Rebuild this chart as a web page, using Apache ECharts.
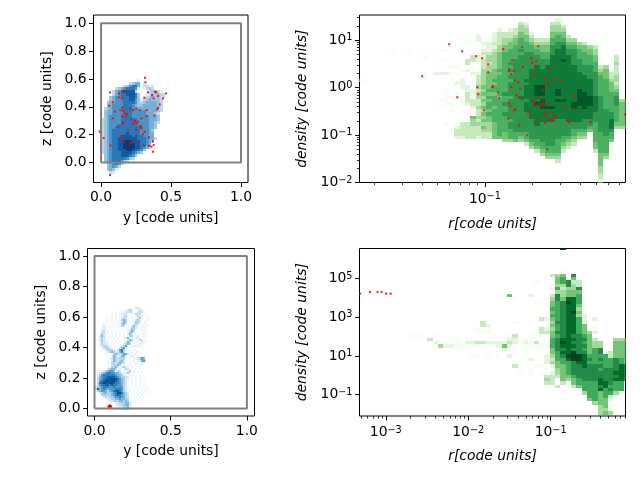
<!DOCTYPE html>
<html>
<head>
<meta charset="utf-8">
<script src="https://cdn.jsdelivr.net/npm/echarts@6/dist/echarts.min.js"></script>
<style>html,body{margin:0;padding:0;background:#fff}#c{width:640px;height:480px}</style>
</head>
<body>
<div id="c"></div>
<script>
// top-left panel: particle cloud, level per cell, rows from z=0.60 downward, columns from y=-0.02
const cloudTopRows = [
"..............1",
"...........2344.1",
".........235664.22.1",
"......234566651.1232",
".....245677772...123321",
".....2456677763..1233322",
"....34556667763.12343322",
"....3455566775312343332",
"...34455566665323444432",
"...34555566654334444432",
"..234555566655444444432",
"..344555566655555444432",
"..34455556665555544432",
"..34555566665555554443",
".234555566666655554443",
".234555566666655554432",
".23455566666665555443",
".23455666666666555443",
"12345666666666655543",
".2345666667666655544",
".2345666777766665544",
".23456677777776665442",
".2345667788877766543",
".234566778888776654",
".234566778888776542",
".2345667778877653",
".234566677776543",
"..345666777653",
"..34566666532",
"..345666532",
"...3456531",
"...34542",
"...3431",
"....21"];
// bottom-left panel: rows from z=0.68 downward, columns from y=0
const cloudBottomRows = [
"",
"...................1221",
".............1.1232.1122",
"..........1.11122321.2321",
"..........1.12221.11322111",
"........1.1.11231.1.1321..1",
"......1.1.1.12321.1.1231.1",
".....11.1.1.13431.1.2321.11",
".....1.1.1.112431.11332.11",
"....1.1.1.111342..12321.11",
"....21.1.1.1132.1.2421.1111",
"...121.11.111.1.1.3321.111",
"...221.1.1.1.1.112431.1111",
"...2311.1.1.1.1.1342.1.111",
"..13211.1.1.1.1.242.1.111",
"..2421.11.1.1.1.1331.2.111",
"..2321.1.1.1.112421.221.1",
"..23211.1.1.1.1.2431.1321",
"..13211.1.1.1.12431.11.211",
"..132211.1.1.11343.1.1211",
"..1233211.1.12351.11211",
"...1233211.12451.1.1.11",
"....12333212563111.11",
".....12343224631.11.11",
".....1.11343235421.1111",
"......1.24312442.1211",
".......124323331.1.112354",
"......1.2432342.1.11.12452",
"......1.33234321.1.111.2",
".......123343.1.1.1.1.11",
"......113342.2321.1..11",
"......23443.2.132.1.1.1",
"...1234554 32.1.23.1.1.1",
"..2345665544321232.1.1",
".235666666544321.11.1.1",
".2456677776543322.1.1.11",
".3456778888654321.1.1.1.1",
".2567887887654321.1.1.1",
".3678878876654321.1.1.1.1",
".3566776766554321.1.1.1.1",
"23456665565555321.1.1.1.11",
"374565455566653211.1.1.1.11",
".34554345677653211.1.1.111",
"..234433456886432.1.1.1.1.1",
"...333334567654321.1.1.1",
"....232334556543211.1.1",
".....1223344544331.1.1",
"......122333443431.1",
".......11.223334421",
"......1.1.12233442",
"......1.2..1223342",
"...........1223431"];
// top-right panel: 2D histogram, one string per column, rows from the top
const histTopCols = [
".......... .........1","","","","","",
".......... .1",
"","",".......... .1","","",
".......... ..1","",
".......... .......2",
".......... 1..1...2.. .....1.1",
".......... 1..1...2.. ..11111... ..1",
".......... .....1.1.1 ....1.1.1",
".......... .....1.1.. 2..11..... ...2332",
".......1.. ......1.12 22...11.1. ..33332",
".......11. ...33.2... .223332... ..33333",
"........1. ..33...2.. ..221332.. 5443333",
"......22.. 11221.1233 3434433433 4343332",
".......121 2323334444 4545454545 4545433",
".......122 2344344555 5565656656 5544433",
".....22232 3444445556 5665666566 6655555",
"....233334 4555556566 6666566666 6666665",
".....33445 5666666666 6667667667 66666554",
"....233455 6666767676 7777677777 76776664",
"....334556 6667777777 7777777777 77777665",
"..34455666 7677777777 7777877777 77777654",
"..23445566 6777777778 7888878887 777776653",
".....23456 6777778888 8888888888 8777777654",
".......345 6677788888 8999889888 8887777665 3",
".......345 5667778888 8999899988 8877777766 54",
".......345 5667788888 8888888988 8877777776 654",
"..34455667 7788888888 8888888988 8877777776 654",
".2344566778 888888888 8899898888 8777777666 6543",
"...3455678 8889888888 8888898888 8777776654 3",
"......3456 7788888888 8888888888 8877776543",
".......456 7777788888 8888889988 887766543",
"........45 6667777888 8899999888 8877654",
"........35 5666677788 8889999988 8777654",
".........4 5566677778 8888999888 87765",
".........3 4455666777 7777888887 7766666655 3",
".......... .....34566 6666777777 7777766666 6555544332",
".......... .....45556 6666666677 7777776666 654",
".......... .......334 5556666667 78887665",
".......... ..33433344 3456777666 6654",
".......... .......... .....45555 5554",
".......... .......... .....45555 5554"];
// bottom-right panel: 2D histogram, one string per column, rows from the top
const histBottomCols = [
"","","","","","","","","","",
".......... .......... ......1",
".......... .......... ......1",
"",
".......... .......... .......3",
".......... .......... ......1.2",
".......... .......... .........4",
".......... .......... ........12",
".......... .......... .......1.2",
".......... .......... ........11 1",
".......... .......... .........1 1",
".......... .......... .......121",
".......... .......... .......121 ..1",
".......... .......... ....11.131 ..1",
".......... .......... ..33.1..31",
".......... .......... ...211..2. ..1",
".......... .......... ......1.21",
".......... .......... ........22 ..1",
".......... .......... .......125 2",
".......... ....5..... ......1232 1.2",
".......... .....1.... ..1...3221 .....3",
".......... .......... .......... 1......1",
".......... .......... .......121 11",
".......... ....2..... ......1111 ...2..11",
".......... 1.....1... .....1..31 1..1.1",
".......... ......1... .3..331..1 1....1.1",
".......... .....1.... .2..23.111 ..222.1.3 43",
"........3. .12.345565 6545455666 5543421233 3",
"........45 5464776666 6676676777 766655443. .3",
"9......156 6434457777 7777777898 7876655555 3",
".......... 7745589888 8888888888 8898666654",
"........75 3445588889 8888887878 7999777765 53",
".......... 3375666545 4666667777 7799877776 65",
".......... ......1111 2225556767 6788887777 6664",
".......... .......... .....45555 5567677777 666665",
".......... .......... .2..12.344 6666677777 6666664",
".......... .......... ........44 7767676778 8785555444",
".......... .......... .......... ..66667777 8866655545",
".......... .......... .......... .336667777 7676321114",
".......... .......... .......455 5557777878 6664....11",
".......... .......... .......455 5556688888 666",
".......... .......... .......455 5555577777"];
const histTopEdges = {r0:-1.796, dr:0.03354, d0:1.53, dd:0.0707};
const histBottomEdges = {r0:-3.336, dr:0.06456, d0:6.639, dd:0.1736};

// red points
const redTopLeftY = [.064,-.01,.019,.067,.064,.129,.15,.126,.148,.057,.086,.086,.1,.138,.15,.157,.169,.186,.15,.176,.157,.152,.121,.145,.157,.164,.21,.224,.193,.21,.229,.252,.276,.217,.24,.229,.252,.24,.264,.288,.252,.286,.288,.283,.252,.312,.3,.343,.307,.343,.36,.376,.371,.371,.324,.326,.381,.4,.419,.407,.443,.464,.407,.395,.386,.376,.364,.336,.31,.317,.314,.164];
const redTopLeftZ = [-.091,.221,.175,.122,.504,.496,.511,.468,.46,.408,.432,.317,.365,.376,.393,.372,.353,.348,.333,.329,.281,.288,.259,.185,.18,.144,.137,.146,.233,.388,.376,.384,.376,.309,.293,.276,.281,.297,.293,.317,.233,.257,.245,.261,.192,.221,.204,.18,.12,.118,.113,.125,.153,.077,.333,.376,.338,.381,.417,.393,.46,.496,.477,.504,.508,.46,.484,.504,.465,.576,.609,.513];
const redBottomLeftY = [.095,.1,.105,.1,.092,.108];
const redBottomLeftZ = [.015,.02,.015,.012,.012,.012];
const redTopLogR = [-1.395,-1.225,-1.143,-1.055,-1.017,-.979,-.979,-1.048,-1.042,-1.174,-1.004,-.95,-.954,-.916,-.91,-.884,-.828,-.847,-.847,-.815,-.834,-.809,-.79,-.834,-.777,-.802,-.847,-.84,-.809,-.815,-.853,-.784,-.733,-.765,-.76,-.765,-.727,-.714,-.708,-.702,-.676,-.683,-.683,-.664,-.601,-.62,-.609,-.601,-.632,-.664,-.697,-.689,-.67,-.651,-.632,-.632,-.601,-.62,-.609,-.626,-.672,-.62,-.584,-.573,-.569,-.559,-.559,-.559,-.512,-.607,-.437,-.496,-.443,-.481,-.47,-.334,-.115];
const redTopLogD = [.239,.914,.767,.661,.619,.492,.323,.007,-.141,-.204,-.478,.028,.007,-.098,-.225,.809,.577,.387,.345,.345,.281,.155,.113,.007,-.014,-.162,-.33,-.394,-.457,-.478,-.647,-.795,-1.006,.851,.436,-.246,-.52,-.605,.619,.52,.556,.45,.281,.872,.408,.197,.113,.056,-.056,-.204,-.288,-.33,-.373,-.352,-.33,-.359,-.352,-.52,-.563,-.619,-.703,-.745,-.689,-.703,-.52,-.584,-.619,.197,.141,-1.301,-.162,-.436,-.436,-.703,-.731,-.731,-.563];
const redBottomLogR = [-3.312,-3.19,-3.10,-3.05,-2.996,-2.94];
const redBottomLogD = [4.22,4.30,4.30,4.30,4.22,4.22];

const boxX = [0,1,1,0,0];
const boxY = [0,0,1,1,0];
const bluesTop = ["","#dfecf7","#c0d8ec","#9cc6e0","#73afd6","#4a95c8","#2a78b8","#0f5ba4","#083a7a"];
const bluesBottom = ["","#eff6fc","#d5e6f4","#b0d2e8","#7fb8da","#4f9bcb","#2f7fbc","#13609f","#084a8a"];
const greensTop = ["","#f7fcf5","#e5f5e0","#c7e9c0","#a1d99b","#74c476","#4bb062","#2f9650","#107a38","#00582a"];
const greens = ["","#f7fcf5","#e5f5e0","#c7e9c0","#a1d99b","#74c476","#41ab5d","#238b45","#006d2c","#00441b"];
const FONT = "DejaVu Sans";
const FS = 13.9;

function cloudCells(rows, x0, ztop, step){
  const out=[];
  rows.forEach((s,r)=>{[...s].forEach((ch,c)=>{ if(ch!=='.'&&ch!==' '){
    out.push([x0+c*step, x0+(c+1)*step, ztop-(r+1)*step, ztop-r*step, +ch]);
  }});});
  return out;
}
function histCells(cols, e){
  const out=[];
  cols.forEach((raw,j)=>{const s=raw.replace(/ /g,'');[...s].forEach((ch,i)=>{ if(ch!=='.'){
    out.push([Math.pow(10,e.r0+j*e.dr),Math.pow(10,e.r0+(j+1)*e.dr),Math.pow(10,e.d0-(i+1)*e.dd),Math.pow(10,e.d0-i*e.dd),+ch]);
  }});});
  return out;
}
function cellSeries(data, palette, g){
  return {type:'custom',xAxisIndex:g*2,yAxisIndex:g*2,data,silent:true,z:2,
    encode:{x:[0,1],y:[2,3]},
    renderItem(params,api){
      const a=api.coord([api.value(0),api.value(3)]), b=api.coord([api.value(1),api.value(2)]);
      const x=Math.round(a[0]),y=Math.round(a[1]);
      const rect=echarts.graphic.clipRectByRect({x,y,width:Math.round(b[0])-x,height:Math.round(b[1])-y},params.coordSys);
      if(!rect) return null;
      return {type:'rect',shape:rect,style:{fill:palette[api.value(4)]}};
    }};
}
function redSeries(xs,ys,g,logged){
  return {type:'scatter',xAxisIndex:g*2,yAxisIndex:g*2,silent:true,z:5,symbol:'rect',symbolSize:2,
    itemStyle:{color:'#ff0000',opacity:.9},
    data:xs.map((x,i)=>logged?[Math.pow(10,x),Math.pow(10,ys[i])]:[x,ys[i]])};
}
function boxSeries(g){
  return {type:'line',xAxisIndex:g*2,yAxisIndex:g*2,silent:true,z:4,showSymbol:false,symbol:'none',
    lineStyle:{color:'#808080',width:2},data:boxX.map((x,i)=>[x,boxY[i]])};
}
const sup={fontFamily:FONT,fontSize:9.7,color:'#000',verticalAlign:'bottom',padding:[0,0,5,0]};
const base={fontFamily:FONT,fontSize:FS,color:'#000'};
function powLabel(v){const e=Math.round(Math.log10(v));return '{a|10}{b|'+String(e).replace('-','\u2212')+'}';}
function mainAxis(g,type,min,max,ticks,name,gap,margin,pos){
  const log=type==='log';
  return Object.assign({gridIndex:g,type,min,max,name,position:pos,nameLocation:'middle',nameGap:gap,
    nameTextStyle:{fontFamily:FONT,fontSize:FS,color:'#000',fontStyle:log?'italic':'normal'},
    splitLine:{show:false},minorTick:{show:false},
    axisLine:{show:false,onZero:false},
    axisTick:{show:true,length:4.5,lineStyle:{color:'#000',width:1},customValues:ticks},
    axisLabel:{show:true,margin,hideOverlap:false,showMinLabel:true,showMaxLabel:true,customValues:ticks,
      formatter:log?powLabel:(v)=>v.toFixed(1),
      fontFamily:FONT,fontSize:FS,color:'#000',rich:log?{a:base,b:sup}:undefined}},logBase(log));
}
function logBase(log){return log?{logBase:10}:{};}
function minorAxis(g,type,min,max,ticks,pos){
  return Object.assign({gridIndex:g,type,min,max,position:pos,axisLine:{show:false,onZero:false},splitLine:{show:false},
    axisLabel:{show:false},
    axisTick:{show:ticks.length>0,length:2.6,lineStyle:{color:'#000',width:.8},customValues:ticks}},logBase(type==='log'));
}
function minors(from,to){const o=[];for(let e=from;e<=to;e++)for(let m=2;m<=9;m++)o.push(m*Math.pow(10,e));return o;}

const r2=[0.0162,0.77], d2=[Math.pow(10,-2),Math.pow(10,1.53)];
const r4=[4.8e-4,0.81], d4=[Math.pow(10,-2.1),Math.pow(10,6.55)];
const grids=[
 {left:93.5,top:15,width:154.5,height:167.5},
 {left:359.5,top:15,width:266,height:167.5},
 {left:87.5,top:248.5,width:167,height:167.5},
 {left:359.5,top:248.5,width:266,height:167.5}
].map(g=>Object.assign(g,{show:true,borderColor:'#000',borderWidth:1,backgroundColor:'#fff',z:1}));

const linTicks=[0,.2,.4,.6,.8,1];
const xAxis=[
 mainAxis(0,'value',-.054,1.05,[0,.5,1],'y [code units]',29,8,'bottom'),
 minorAxis(0,'value',-.054,1.05,[],'bottom'),
 mainAxis(1,'log',r2[0],r2[1],[.1],'r[code units]',35,9,'bottom'),
 minorAxis(1,'log',r2[0],r2[1],minors(-2,-1).filter(v=>v>r2[0]&&v<r2[1]),'bottom'),
 mainAxis(2,'value',-.046,1.05,[0,.5,1],'y [code units]',28,8,'bottom'),
 minorAxis(2,'value',-.046,1.05,[],'bottom'),
 mainAxis(3,'log',r4[0],r4[1],[1e-3,1e-2,1e-1],'r[code units]',33,9,'bottom'),
 minorAxis(3,'log',r4[0],r4[1],minors(-4,-1).filter(v=>v>r4[0]&&v<r4[1]),'bottom')
];
const yAxis=[
 mainAxis(0,'value',-.144,1.06,linTicks,'z [code units]',39,7,'left'),
 minorAxis(0,'value',-.144,1.06,[],'left'),
 mainAxis(1,'log',d2[0],d2[1],[1e-2,1e-1,1,10],'density [code units]',50,7,'left'),
 minorAxis(1,'log',d2[0],d2[1],minors(-2,1).filter(v=>v>d2[0]&&v<d2[1]),'left'),
 mainAxis(2,'value',-.05,1.05,linTicks,'z [code units]',39,7,'left'),
 minorAxis(2,'value',-.05,1.05,[],'left'),
 mainAxis(3,'log',d4[0],d4[1],[1e-1,1e1,1e3,1e5],'density [code units]',50,7,'left'),
 minorAxis(3,'log',d4[0],d4[1],[],'left')
];
const series=[
 cellSeries(cloudCells(cloudTopRows,-.02,.60,.02),bluesTop,0), boxSeries(0), redSeries(redTopLeftY,redTopLeftZ,0,false),
 cellSeries(histCells(histTopCols,histTopEdges),greensTop,1), redSeries(redTopLogR,redTopLogD,1,true),
 cellSeries(cloudCells(cloudBottomRows,0,.68,.0133),bluesBottom,2), boxSeries(2), redSeries(redBottomLeftY,redBottomLeftZ,2,false),
 cellSeries(histCells(histBottomCols,histBottomEdges),greens,3), redSeries(redBottomLogR,redBottomLogD,3,true)
];
const chart=echarts.init(document.getElementById('c'),null,{renderer:'canvas'});
chart.setOption({animation:false,backgroundColor:'#fff',grid:grids,xAxis,yAxis,series});
</script>
</body>
</html>
